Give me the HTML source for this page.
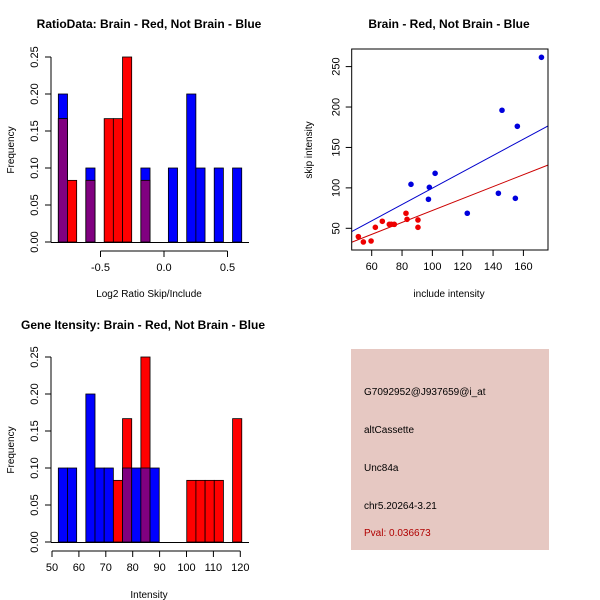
<!DOCTYPE html>
<html><head><meta charset="utf-8"><style>
body{margin:0;background:#fff;}
svg{display:block;font-family:"Liberation Sans",Arial,sans-serif;}
</style></head><body>
<svg id="c" width="600" height="600" viewBox="0 0 600 600"></svg>
<script>
// Top-left histogram (log2 ratio), 20 bins
const ratioBinStart = -0.832;
const ratioBinWidth = 0.0722;
const ratioRed  = [0.1667,0.0833,0,0.0833,0,0.1667,0.1667,0.25,0,0.0833,0,0,0,0,0,0,0,0,0,0];
const ratioBlue = [0.2,0,0,0.1,0,0,0,0,0,0.1,0,0,0.1,0,0.2,0.1,0,0.1,0,0.1];
const ratioXTicks = [-0.5,0.0,0.5];
const ratioXLabels = ["-0.5","0.0","0.5"];
const freqTicks = [0,0.05,0.1,0.15,0.2,0.25];
const freqLabels = ["0.00","0.05","0.10","0.15","0.20","0.25"];
// Bottom-left histogram (intensity)
const intBinStart = 52.35;
const intBinWidth = 3.41;
const intRed  = [0,0,0,0,0,0,0.0833,0.1667,0,0.25,0,0,0,0,0.0833,0.0833,0.0833,0.0833,0,0.1667];
const intBlue = [0.1,0.1,0,0.2,0.1,0.1,0,0.1,0.1,0.1,0.1,0,0,0,0,0,0,0,0,0];
const intXTicks = [50,60,70,80,90,100,110,120];
// Scatter
const blueX = [85.9,97.4,98,101.8,123,143.5,145.9,154.7,156,171.9];
const blueY = [104.4,85.9,100.7,118,68.6,93.3,196,87.1,176.2,261.5];
const redX = [51.2,54.5,59.6,62.4,67,71.6,74.9,82.6,83.3,90.5,90.5,73];
const redY = [39.7,33.1,34.3,51.2,58.7,54.9,54.9,68.6,61.1,60.3,51.2,55];
const blueFit = [-1.4,1.01];
const redFit = [-1.8,0.738];
const scXTicks = [60,80,100,120,140,160];
const scYTicks = [50,100,150,200,250];

const svg = document.getElementById('c');
const NS = 'http://www.w3.org/2000/svg';
function mk(tag, attrs, parent){const e=document.createElementNS(NS,tag);for(const k in attrs)e.setAttribute(k,attrs[k]);(parent||svg).appendChild(e);return e;}
function txt(x,y,s,attrs,parent){const e=mk('text',Object.assign({x:x,y:y,'font-size':11,'text-anchor':'middle',fill:'#000'},attrs||{}),parent);e.textContent=s;return e;}

function hist(opts){
  const g=mk('g',{});
  
  
  const X=v=>opts.x0+(v-opts.xv0)*opts.xs;
  const Y=v=>opts.ybase-v*opts.ys;
  const n=opts.red.length;
  for(let i=0;i<n;i++){
    const l=X(opts.bs+i*opts.bw), r=X(opts.bs+(i+1)*opts.bw);
    const b=opts.blue[i], rd=opts.red[i];
    if(b>0){const e=mk('rect',{x:l,y:Y(b),width:r-l,height:Y(0)-Y(b),fill:'#0000ff',stroke:'#000','stroke-width':0.8},g);
      }
    if(rd>0){const e=mk('rect',{x:l,y:Y(rd),width:r-l,height:Y(0)-Y(rd),fill:'#ff0000',stroke:'#000','stroke-width':0.8},g);
      }
    if(b>0&&rd>0){const m=Math.min(b,rd);const e=mk('rect',{x:l,y:Y(m),width:r-l,height:Y(0)-Y(m),fill:'#800080',stroke:'#000','stroke-width':0.8},g);
      }
  }
  mk('line',{x1:opts.axL,x2:opts.axR,y1:Y(0)+0.5,y2:Y(0)+0.5,stroke:'#000'},g);
  const ya=mk('g',{},g);
  const yx=opts.yAxisX;
  mk('line',{x1:yx,x2:yx,y1:Y(0),y2:Y(0.25),stroke:'#000'},ya);
  freqTicks.forEach((t,i)=>{mk('line',{x1:yx-6,x2:yx,y1:Y(t),y2:Y(t),stroke:'#000'},ya);
    txt(yx-13,Y(t),freqLabels[i],{transform:`rotate(-90 ${yx-13} ${Y(t)})`,'font-size':11},ya);});
  const xa=mk('g',{},g);
  const ty=opts.tickY;
  mk('line',{x1:X(opts.xt[0]),x2:X(opts.xt[opts.xt.length-1]),y1:ty,y2:ty,stroke:'#000'},xa);
  opts.xt.forEach((t,i)=>{mk('line',{x1:X(t),x2:X(t),y1:ty,y2:ty+6,stroke:'#000'},xa);txt(X(t),ty+20,opts.xl[i],{},xa);});
  const yt=txt(14,opts.ybase-92,'Frequency',{transform:`rotate(-90 14 ${opts.ybase-92})`,'font-size':10},g);
  
  const xt=txt(opts.xTitleX,opts.xTitleY,opts.xTitle,{'font-size':10},g);
  
  const tt=txt(opts.titleX,opts.titleY,opts.title,{'font-size':12,'font-weight':'bold'},g);
  
}

hist({name:'ratio-histogram',x0:164,xv0:0,xs:127,ybase:242,ys:740,bs:ratioBinStart,bw:ratioBinWidth,
  red:ratioRed,blue:ratioBlue,axL:51,axR:249,yAxisX:51,tickY:251,xt:ratioXTicks,xl:ratioXLabels,
  xTitle:'Log2 Ratio Skip/Include',xTitleX:149,xTitleY:297,title:'RatioData: Brain - Red, Not Brain - Blue',titleX:149,titleY:28});
hist({name:'intensity-histogram',x0:52,xv0:50,xs:2.69,ybase:542,ys:740,bs:intBinStart,bw:intBinWidth,
  red:intRed,blue:intBlue,axL:51,axR:249,yAxisX:51,tickY:551,xt:intXTicks,xl:intXTicks.map(String),
  xTitle:'Intensity',xTitleX:149,xTitleY:598,title:'Gene Itensity: Brain - Red, Not Brain - Blue',titleX:143,titleY:329});

(function(){
  const g=mk('g',{});
  const L=351.7,R=548,T=49,B=250;
  const X=v=>371.7+(v-60)*1.517;
  const Y=v=>228.3-(v-50)*0.8085;
  const clip=mk('clipPath',{id:'sc'},g);mk('rect',{x:L,y:T,width:R-L,height:B-T},clip);
  const fits=[[blueFit,'#0000cc'],[redFit,'#cc0000']];
  fits.forEach(([f,c],i)=>{const xa=40,xb=185;const e=mk('line',{x1:X(xa),y1:Y(f[0]+f[1]*xa),x2:X(xb),y2:Y(f[0]+f[1]*xb),stroke:c,'stroke-width':1,'clip-path':'url(#sc)'},g);
    });
  blueX.forEach((x,i)=>{const e=mk('circle',{cx:X(x),cy:Y(blueY[i]),r:2.8,fill:'#0000dd'},g);
    });
  redX.forEach((x,i)=>{const e=mk('circle',{cx:X(x),cy:Y(redY[i]),r:2.8,fill:'#ee0000'},g);
    });
  const box=mk('rect',{x:L,y:T,width:R-L,height:B-T,fill:'none',stroke:'#000'},g);
  
  const xa=mk('g',{},g);
  scXTicks.forEach(t=>{mk('line',{x1:X(t),x2:X(t),y1:B,y2:B+6,stroke:'#000'},xa);txt(X(t),B+20,String(t),{},xa);});
  const ya=mk('g',{},g);
  scYTicks.forEach(t=>{mk('line',{x1:L-6,x2:L,y1:Y(t),y2:Y(t),stroke:'#000'},ya);
    txt(L-12,Y(t),String(t),{transform:`rotate(-90 ${L-12} ${Y(t)})`},ya);});
  const xt=txt(449,297,'include intensity',{'font-size':10},g);
  const yt=txt(312,150,'skip intensity',{'font-size':10,transform:'rotate(-90 312 150)'},g);
  const tt=txt(449,28,'Brain - Red, Not Brain - Blue',{'font-size':12,'font-weight':'bold'},g);
})();

(function(){
  const g=mk('g',{});
  mk('rect',{x:351,y:349,width:198,height:201,fill:'#e6c8c2'},g);
  const lines=[['G7092952@J937659@i_at',395,'#000','probe-id'],['altCassette',433,'#000','event-type'],['Unc84a',471,'#000','gene-name'],['chr5.20264-3.21',509,'#000','location'],['Pval: 0.036673',536,'#b00000','p-value']];
  lines.forEach(l=>{const e=txt(364,l[1],l[0],{'text-anchor':'start','font-size':10,fill:l[2]},g);
    });
})();
</script>
</body></html>
